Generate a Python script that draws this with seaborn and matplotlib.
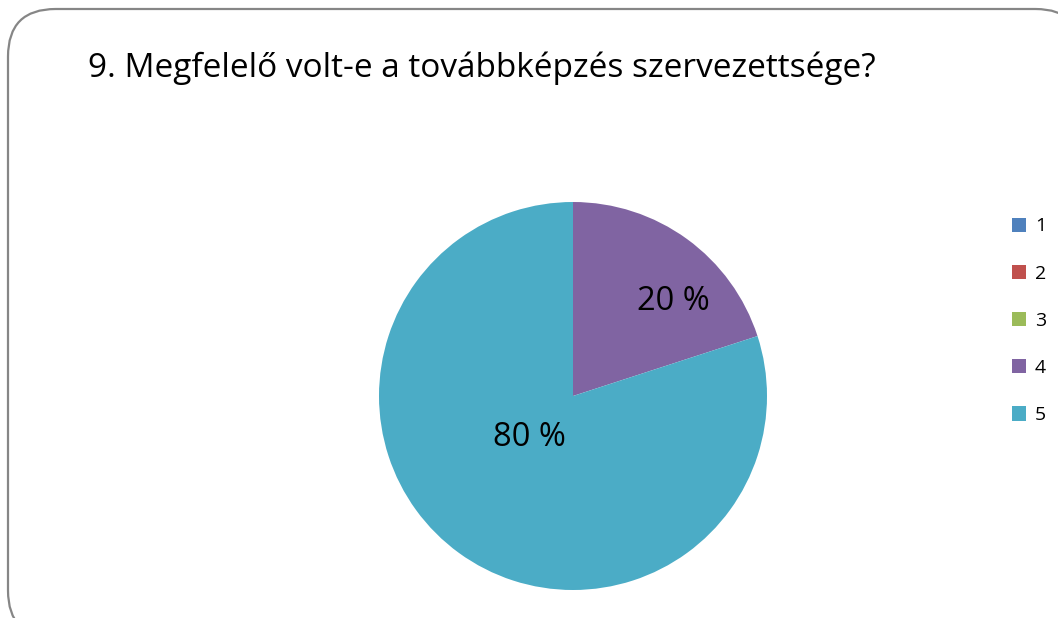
import matplotlib
matplotlib.use("Agg")
import matplotlib.pyplot as plt
from matplotlib.patches import FancyBboxPatch, Patch
import numpy as np
import seaborn as sns

# survey answers (share of respondents, %)
categories = ["1", "2", "3", "4", "5"]
shares = [0, 0, 0, 20, 80]
colors = ["#4F81BD", "#C0504D", "#9BBB59", "#8064A2", "#4BACC6"]
title = "9. Megfelelő volt-e a továbbképzés szervezettsége?"

sns.set_theme(style="white")
plt.rcParams['font.family'] = ['Open Sans', 'DejaVu Sans']

W, H = 1058, 618
fig = plt.figure(figsize=(W / 100, H / 100), dpi=100)

# rounded chart frame, running off the right and bottom edges
frame = FancyBboxPatch((8 / W, -20 / H), 1075 / W, (H - 9 + 20) / H,
                       boxstyle="round,pad=0,rounding_size=0.045",
                       transform=fig.transFigure, facecolor="white",
                       edgecolor="#868686", linewidth=1.6, zorder=-5,
                       mutation_aspect=W / H)
fig.patches.append(frame)

cx, cy, r = 573, 396, 194
ax = fig.add_axes([(cx - r) / W, (H - cy - r) / H, 2 * r / W, 2 * r / H])
ax.set_zorder(2)
wedges, texts, autotexts = ax.pie(
    shares, colors=colors, startangle=90, counterclock=False,
    autopct=lambda p: f"{p:.0f} %" if p >= 1 else "",
    textprops={"fontsize": 23.5, "color": "black"},
    wedgeprops={"linewidth": 0})
ax.set_xlim(-1, 1)
ax.set_ylim(-1, 1)
ax.set_aspect("equal")

# label placement (distance from centre, angle in degrees) as in the original
label_pos = {3: (0.71, 43.5), 4: (0.31, 224)}
for i, (dist, ang) in label_pos.items():
    a = np.deg2rad(ang)
    autotexts[i].set_position((dist * np.cos(a), dist * np.sin(a)))

fig.text(88 / W, 1 - 68 / H, title, fontsize=24, va="center", ha="left",
         color="black")

handles = [Patch(facecolor=c, edgecolor="none") for c in colors]
fig.legend(handles, categories, loc="upper left",
           bbox_to_anchor=(994 / W, 1 - 200 / H), frameon=False,
           fontsize=14, labelspacing=1.5, handlelength=0.75,
           handleheight=0.75, handletextpad=0.45, labelcolor="black")

fig.savefig("out.png", dpi=100)
